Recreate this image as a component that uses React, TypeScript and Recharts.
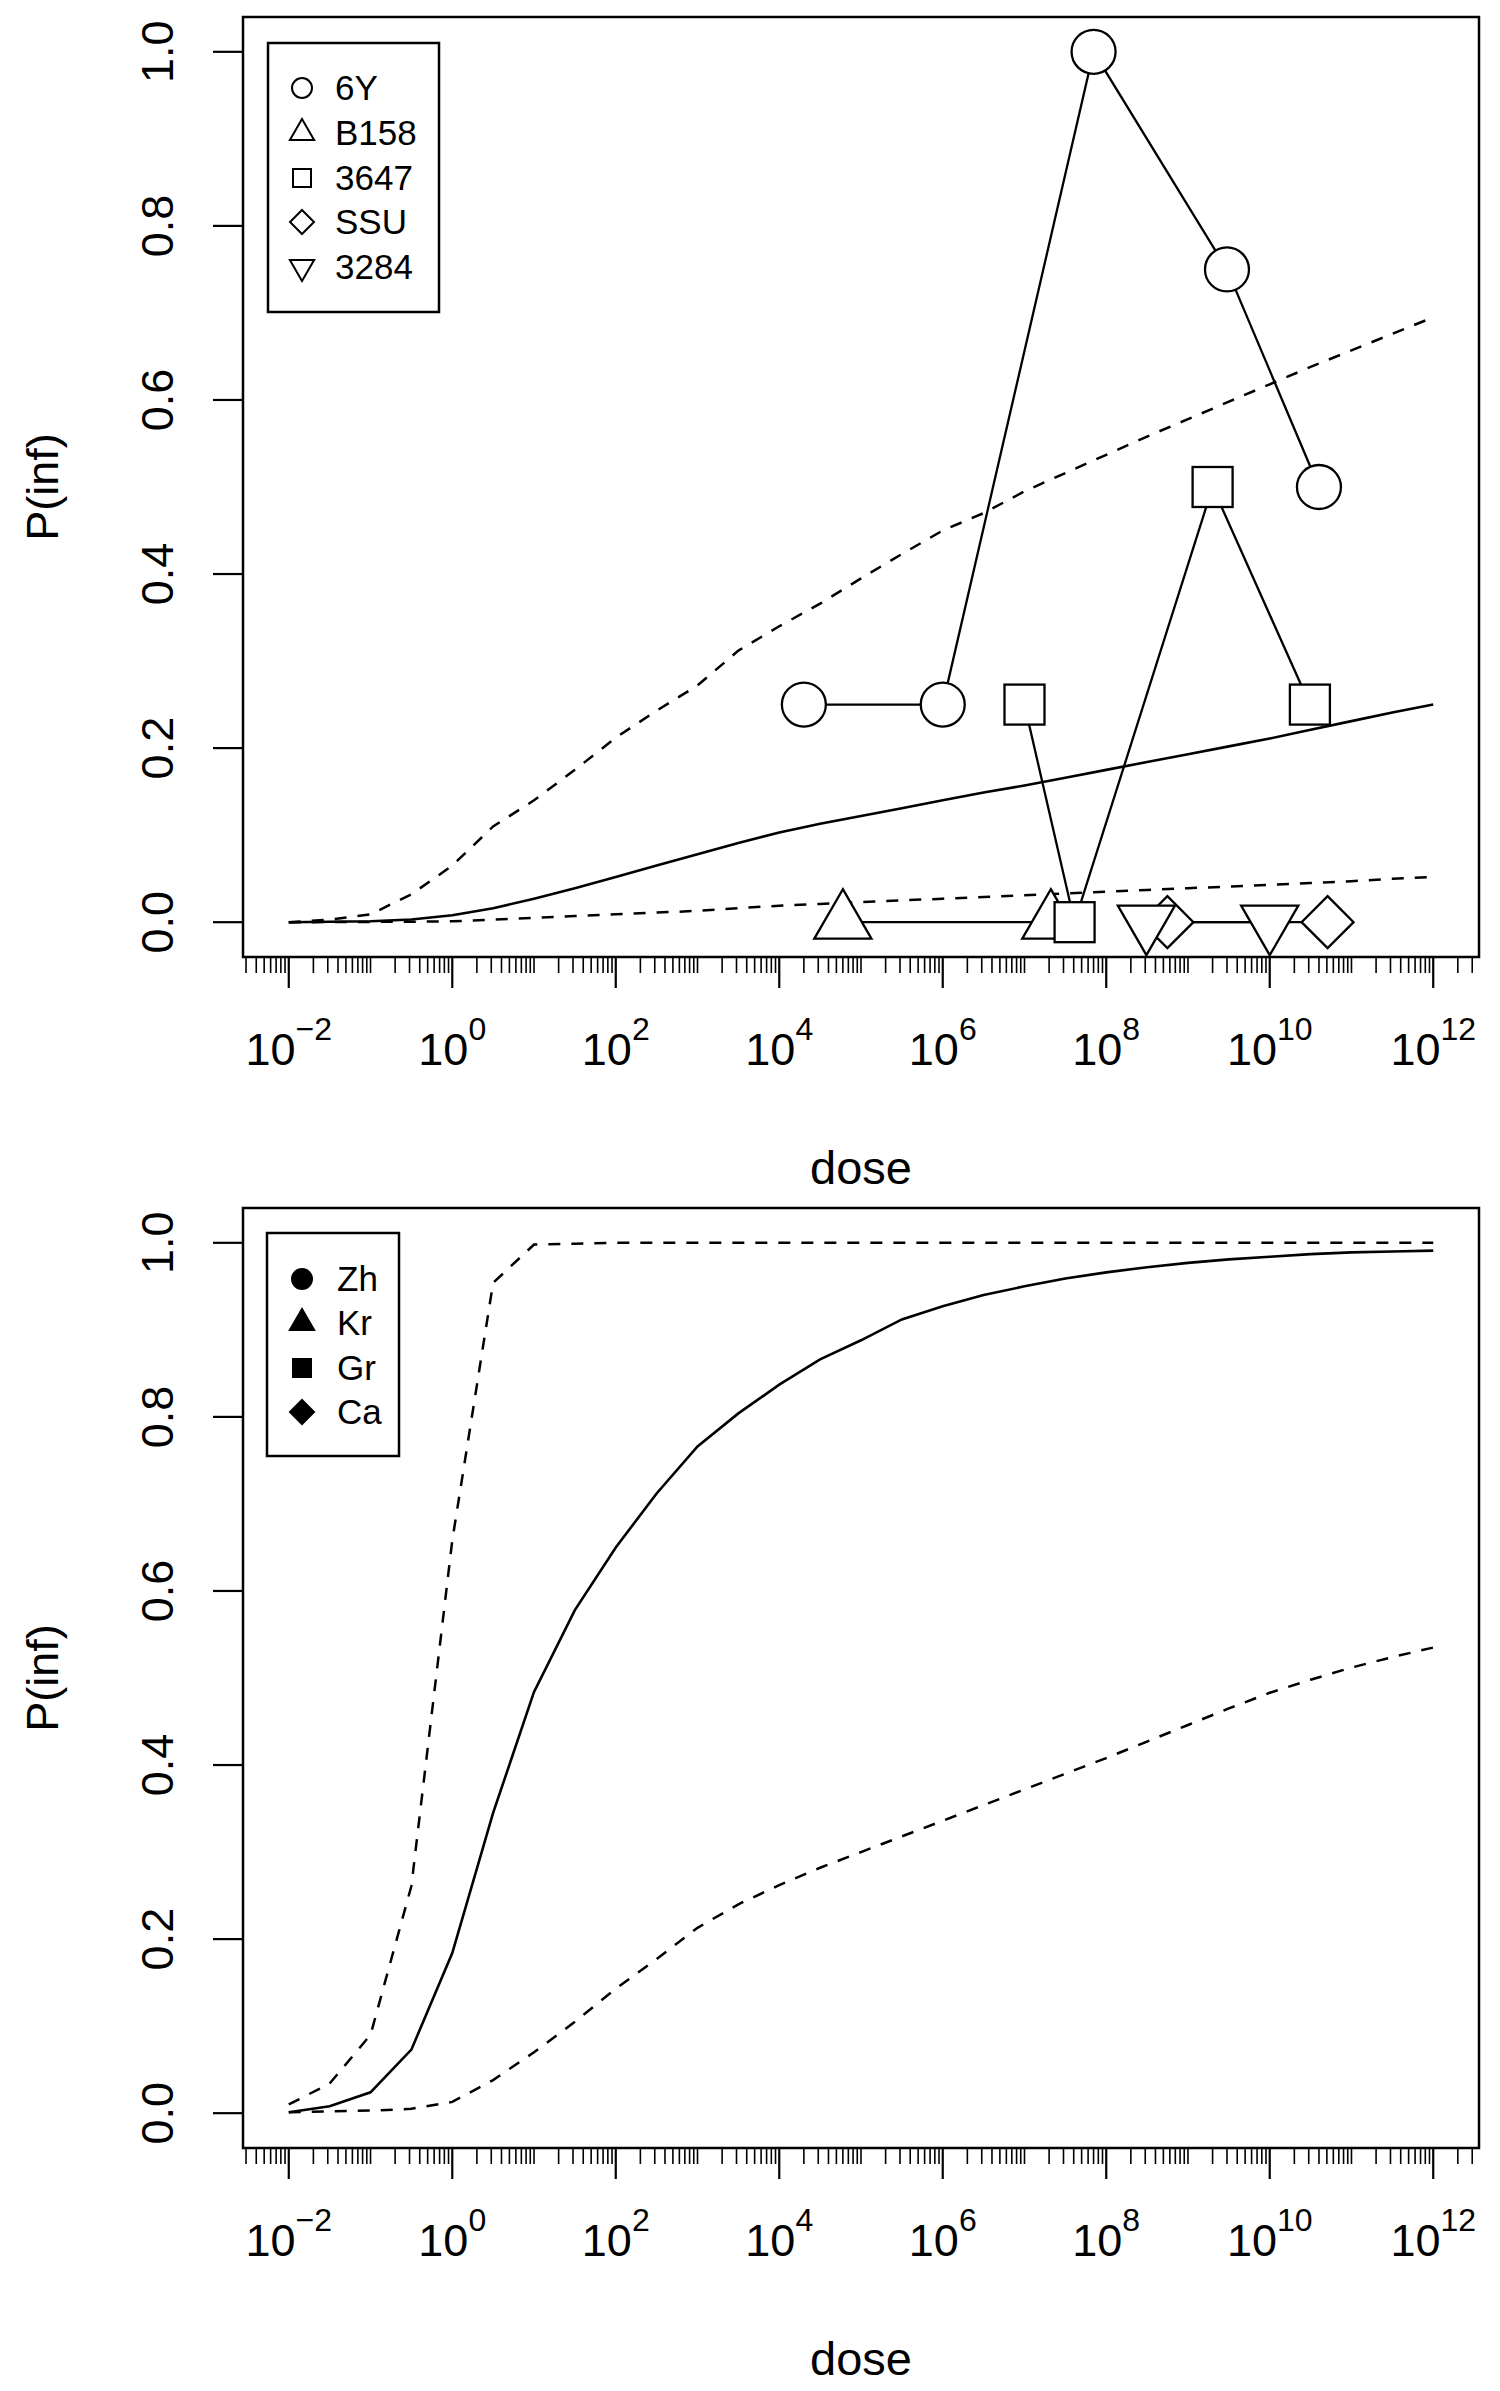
import React from 'react';
import { ComposedChart, Line, XAxis, YAxis, ReferenceArea } from 'recharts';

// dose grid the fitted curves were evaluated on (half-decade steps)
const doses = [
  0.01, 0.0316, 0.1, 0.316, 1, 3.16, 10, 31.6, 100, 316, 1e3, 3.16e3, 1e4, 3.16e4, 1e5,
  3.16e5, 1e6, 3.16e6, 1e7, 3.16e7, 1e8, 3.16e8, 1e9, 3.16e9, 1e10, 3.16e10, 1e11, 3.16e11, 1e12,
];

// top panel: fit and bounds
const topFit = [
  0, 0.0005, 0.001, 0.003, 0.008, 0.016, 0.027, 0.039, 0.052, 0.065, 0.078, 0.091, 0.103, 0.113, 0.122,
  0.131, 0.14, 0.149, 0.157, 0.166, 0.175, 0.184, 0.193, 0.202, 0.211, 0.221, 0.231, 0.241, 0.25,
];
const topHi = [
  0, 0.003, 0.009, 0.032, 0.065, 0.11, 0.14, 0.175, 0.212, 0.243, 0.272, 0.312, 0.34, 0.366, 0.395,
  0.423, 0.45, 0.47, 0.495, 0.516, 0.537, 0.558, 0.578, 0.598, 0.618, 0.638, 0.657, 0.676, 0.695,
];
const topLo = [
  0, 0.0001, 0.0003, 0.0006, 0.001, 0.003, 0.005, 0.007, 0.009, 0.011, 0.013, 0.016, 0.019, 0.021, 0.023,
  0.025, 0.027, 0.029, 0.031, 0.033, 0.035, 0.037, 0.039, 0.041, 0.043, 0.045, 0.047, 0.05, 0.052,
];

// bottom panel: fit and bounds
const botFit = [
  0.001, 0.008, 0.024, 0.073, 0.184, 0.345, 0.484, 0.578, 0.65, 0.712, 0.766, 0.804, 0.837, 0.866, 0.888,
  0.912, 0.927, 0.94, 0.95, 0.959, 0.966, 0.972, 0.977, 0.981, 0.984, 0.987, 0.989, 0.99, 0.991,
];
const botHi = [
  0.01, 0.034, 0.09, 0.261, 0.658, 0.954, 0.998, 0.999, 1, 1, 1, 1, 1, 1, 1,
  1, 1, 1, 1, 1, 1, 1, 1, 1, 1, 1, 1, 1, 1,
];
const botLo = [
  0.001, 0.002, 0.003, 0.005, 0.013, 0.038, 0.07, 0.105, 0.143, 0.177, 0.213, 0.24, 0.262, 0.282, 0.3,
  0.318, 0.336, 0.354, 0.372, 0.39, 0.408, 0.427, 0.446, 0.465, 0.483, 0.498, 0.512, 0.524, 0.535,
];

// observed strains (top panel)
const dose6Y = [2e4, 1e6, 7e7, 3e9, 4e10];
const p6Y = [0.25, 0.25, 1.0, 0.75, 0.5];
const doseB158 = [6e4, 2.1e7];
const pB158 = [0, 0];
const dose3647 = [1e7, 4.1e7, 2e9, 3.1e10];
const p3647 = [0.25, 0, 0.5, 0.25];
const doseSSU = [5.6e8, 5.1e10];
const pSSU = [0, 0];
const dose3284 = [3.1e8, 1e10];
const p3284 = [0, 0];

const topLegend = ['6Y', 'B158', '3647', 'SSU', '3284'];
const topShapes = ['circle', 'tri', 'square', 'diamond', 'dtri'];
const botLegend = ['Zh', 'Kr', 'Gr', 'Ca'];
const botShapes = ['circle', 'tri', 'square', 'diamond'];

const yTicks = [0, 0.2, 0.4, 0.6, 0.8, 1.0];
const majorExp = [-2, 0, 2, 4, 6, 8, 10, 12];

const FONT = '"Liberation Sans", Arial, Helvetica, sans-serif';
const X_MIN = Math.pow(10, -2.56);
const X_MAX = Math.pow(10, 12.56);

const majorTicks = majorExp.map((e) => Math.pow(10, e));
const minorTicks: number[] = [];
for (let e = -3; e <= 12; e++) {
  for (let k = 1; k <= 9; k++) {
    if (k === 1 && e % 2 === 0) continue;
    const v = k * Math.pow(10, e);
    if (v >= X_MIN && v <= X_MAX) minorTicks.push(v);
  }
}
const allTicks = [...majorTicks, ...minorTicks].sort((a, b) => a - b);

const toRows = (fit: number[], lo: number[], hi: number[]) =>
  doses.map((d, i) => ({ dose: d, fit: fit[i], lo: lo[i], hi: hi[i] }));
const toPoints = (d: number[], p: number[]) => d.map((x, i) => ({ dose: x, p: p[i] }));

const topRows = toRows(topFit, topLo, topHi);
const botRows = toRows(botFit, botLo, botHi);

const topSeries = [
  { name: '6Y', shape: 'circle', data: toPoints(dose6Y, p6Y) },
  { name: 'B158', shape: 'tri', data: toPoints(doseB158, pB158) },
  { name: '3647', shape: 'square', data: toPoints(dose3647, p3647) },
  { name: 'SSU', shape: 'diamond', data: toPoints(doseSSU, pSSU) },
  { name: '3284', shape: 'dtri', data: toPoints(dose3284, p3284) },
];

// sizes: circle radius, triangle radius, square half side, diamond half diagonal
const BIG = { circle: 22, tri: 33, dtri: 33, square: 20, diamond: 26 };
const SMALL = { circle: 10, tri: 14, dtri: 14, square: 9, diamond: 12 };

function Marker({ shape, cx, cy, sizes, filled, sw }: any) {
  const r = sizes[shape];
  const fill = filled ? '#000' : '#fff';
  const common = { fill, stroke: '#000', strokeWidth: sw };
  if (shape === 'circle') return <circle cx={cx} cy={cy} r={r} {...common} />;
  if (shape === 'square') return <rect x={cx - r} y={cy - r} width={2 * r} height={2 * r} {...common} />;
  if (shape === 'diamond')
    return <polygon points={`${cx},${cy - r} ${cx + r},${cy} ${cx},${cy + r} ${cx - r},${cy}`} {...common} />;
  const h = 0.866 * r;
  if (shape === 'tri')
    return <polygon points={`${cx},${cy - r} ${cx + h},${cy + r / 2} ${cx - h},${cy + r / 2}`} {...common} />;
  return <polygon points={`${cx},${cy + r} ${cx + h},${cy - r / 2} ${cx - h},${cy - r / 2}`} {...common} />;
}

const XTick = (props: any) => {
  const { x, y, payload } = props;
  const lg = Math.log10(payload.value);
  const e = Math.round(lg);
  const isMajor = Math.abs(lg - e) < 1e-6 && e % 2 === 0;
  return (
    <g>
      <line x1={x} x2={x} y1={y} y2={y + (isMajor ? 31 : 16)} stroke="#000" strokeWidth={isMajor ? 2.2 : 1.6} />
      {isMajor && (
        <text x={x} y={y + 108} textAnchor="middle" fontSize={45} fontFamily={FONT} fill="#000">
          10
          <tspan dy={-25} fontSize={32}>
            {e < 0 ? '\u2212' + -e : String(e)}
          </tspan>
        </text>
      )}
    </g>
  );
};

const YTick = (props: any) => {
  const { x, y, payload } = props;
  const tx = x - 70;
  return (
    <g>
      <line x1={x} x2={x - 30} y1={y} y2={y} stroke="#000" strokeWidth={2.2} />
      <text x={tx} y={y} transform={`rotate(-90 ${tx} ${y})`} textAnchor="middle" fontSize={45} fontFamily={FONT} fill="#000">
        {payload.value.toFixed(1)}
      </text>
    </g>
  );
};

function Panel({ rows, series, top }: any) {
  return (
    <div style={{ position: 'absolute', left: 0, top, width: 1500, height: 1190 }}>
      <ComposedChart width={1500} height={1190} data={rows} margin={{ top: 17, right: 21, bottom: 33, left: 43 }}>
        <XAxis
          dataKey="dose"
          type="number"
          scale="log"
          domain={[X_MIN, X_MAX]}
          allowDataOverflow
          ticks={allTicks}
          interval={0}
          tick={XTick}
          tickSize={0}
          tickMargin={0}
          tickLine={false}
          axisLine={false}
          height={200}
        />
        <YAxis
          type="number"
          domain={[-0.04, 1.04]}
          allowDataOverflow
          ticks={yTicks}
          interval={0}
          tick={YTick}
          tickSize={0}
          tickMargin={0}
          tickLine={false}
          axisLine={false}
          width={200}
        />
        <ReferenceArea x1={X_MIN} x2={X_MAX} y1={-0.04} y2={1.04} fill="none" stroke="#000" strokeWidth={2.5} />
        <Line dataKey="hi" type="linear" stroke="#000" strokeWidth={2.5} strokeDasharray="12 11" dot={false} activeDot={false} isAnimationActive={false} />
        <Line dataKey="lo" type="linear" stroke="#000" strokeWidth={2.5} strokeDasharray="12 11" dot={false} activeDot={false} isAnimationActive={false} />
        <Line dataKey="fit" type="linear" stroke="#000" strokeWidth={2.6} dot={false} activeDot={false} isAnimationActive={false} />
        {series.map((s: any) => (
          <Line
            key={s.name}
            data={s.data}
            dataKey="p"
            type="linear"
            stroke="#000"
            strokeWidth={2.3}
            activeDot={false}
            isAnimationActive={false}
            dot={(p: any) => (
              <Marker key={`${s.name}-${p.index}`} shape={s.shape} cx={p.cx} cy={p.cy} sizes={BIG} sw={2.3} />
            )}
          />
        ))}
      </ComposedChart>
    </div>
  );
}

function LegendBox({ x, y, w, h, rows, names, shapes, filled, textX }: any) {
  return (
    <g>
      <rect x={x} y={y} width={w} height={h} fill="#fff" stroke="#000" strokeWidth={2.5} />
      {names.map((n: string, i: number) => (
        <g key={n}>
          <Marker shape={shapes[i]} cx={302} cy={rows[i]} sizes={SMALL} filled={filled} sw={2} />
          <text x={textX} y={rows[i] + 12} fontSize={35} fontFamily={FONT} fill="#000">
            {n}
          </text>
        </g>
      ))}
    </g>
  );
}

export default function App() {
  return (
    <div style={{ position: 'absolute', left: 0, top: 0, width: 1500, height: 2391, background: '#fff' }}>
      <Panel rows={topRows} series={topSeries} top={0} />
      <Panel rows={botRows} series={[]} top={1191} />
      <svg width={1500} height={2391} style={{ position: 'absolute', left: 0, top: 0, pointerEvents: 'none' }}>
        <LegendBox x={268} y={43} w={171} h={269} rows={[88, 133, 178, 222, 267]} names={topLegend} shapes={topShapes} filled={false} textX={335} />
        <LegendBox x={267} y={1233} w={132} h={223} rows={[1279, 1323, 1368, 1412]} names={botLegend} shapes={botShapes} filled textX={337} />
        <text x={861} y={1184} textAnchor="middle" fontSize={47} fontFamily={FONT} fill="#000">dose</text>
        <text x={861} y={2375} textAnchor="middle" fontSize={47} fontFamily={FONT} fill="#000">dose</text>
        <text x={58} y={487} transform="rotate(-90 58 487)" textAnchor="middle" fontSize={45} fontFamily={FONT} fill="#000">P(inf)</text>
        <text x={58} y={1678} transform="rotate(-90 58 1678)" textAnchor="middle" fontSize={45} fontFamily={FONT} fill="#000">P(inf)</text>
      </svg>
    </div>
  );
}
